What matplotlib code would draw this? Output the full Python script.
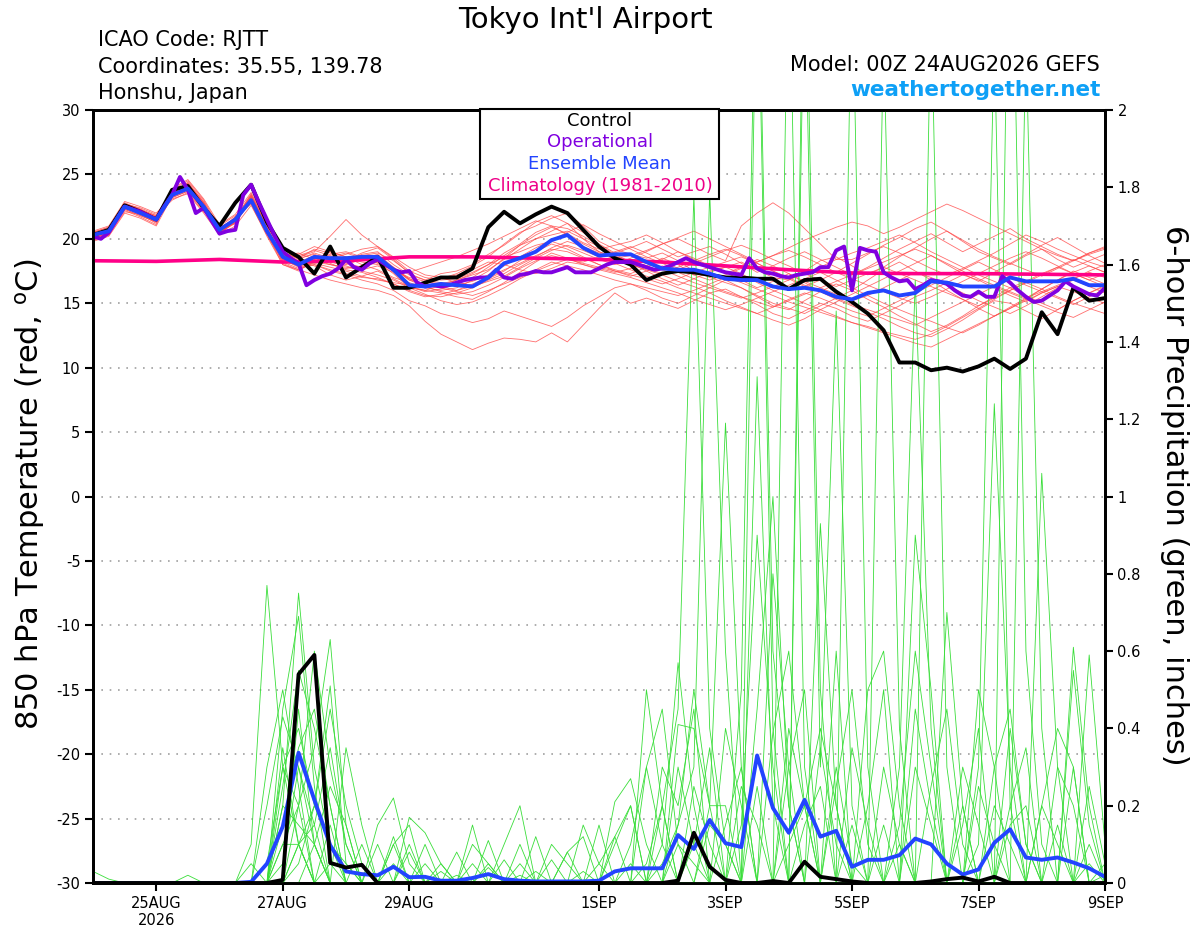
import numpy as np
import matplotlib
matplotlib.use("Agg")
import matplotlib.pyplot as plt
from matplotlib.patches import Rectangle

plt.rcParams["axes.unicode_minus"] = False

# 6-hourly steps from 00Z 24AUG2026 (in days), operational run is 3-hourly
steps6 = np.arange(0, 385, 6) / 24.0
steps3 = np.arange(0, 385, 3) / 24.0
clim_days = np.arange(0, 17)

tick_days = [1, 3, 5, 8, 10, 12, 14, 16]
tick_labels = ["25AUG\n2026", "27AUG", "29AUG", "1SEP", "3SEP", "5SEP", "7SEP", "9SEP"]

control_t = [20.3, 20.7, 22.6, 22.1, 21.5, 23.8, 24.1, 22.4, 21.0, 22.8,
             24.2, 21.3, 19.3, 18.6, 17.3, 19.4, 17.0, 17.8, 18.6, 16.2,
             16.2, 16.6, 17.0, 17.0, 17.7, 20.9, 22.1, 21.2, 21.9, 22.5,
             22.0, 20.7, 19.4, 18.5, 18.0, 16.8, 17.3, 17.5, 17.4, 17.2,
             17.0, 17.0, 16.9, 16.9, 16.1, 16.8, 16.9, 15.9, 15.1, 14.2,
             12.9, 10.4, 10.4, 9.8, 10.0, 9.7, 10.1, 10.7, 9.9, 10.7,
             14.3, 12.6, 16.2, 15.2, 15.4]

mean_t = [20.3, 20.6, 22.5, 22.0, 21.5, 23.4, 23.9, 22.5, 20.7, 21.5,
          23.0, 20.6, 18.6, 18.0, 18.6, 18.5, 18.5, 18.6, 18.6, 17.6,
          16.4, 16.3, 16.5, 16.4, 16.3, 17.0, 18.1, 18.5, 19.0, 19.9,
          20.3, 19.3, 18.7, 18.8, 18.8, 18.2, 17.7, 17.6, 17.6, 17.3,
          16.9, 16.8, 16.8, 16.3, 16.1, 16.2, 16.0, 15.5, 15.3, 15.8,
          16.0, 15.6, 15.8, 16.7, 16.6, 16.3, 16.3, 16.3, 17.0, 16.7,
          16.7, 16.7, 16.9, 16.4, 16.4]

oper_t = [20.2, 20.0, 20.5, 21.5, 22.5, 22.3, 22.1, 21.8, 21.5, 22.5,
          23.4, 24.8, 23.8, 22.0, 22.4, 21.4, 20.4, 20.6, 20.7, 23.4,
          24.2, 22.8, 21.5, 20.2, 19.0, 18.5, 18.1, 16.4, 16.8, 17.1,
          17.3, 17.7, 18.4, 17.8, 17.6, 18.1, 18.4, 18.0, 17.6, 17.4,
          17.5, 16.6, 16.3, 16.4, 16.3, 16.4, 16.6, 16.8, 16.9, 17.0,
          17.0, 17.6, 17.0, 16.9, 17.2, 17.3, 17.5, 17.4, 17.4, 17.6,
          17.8, 17.4, 17.4, 17.4, 17.7, 18.0, 18.2, 18.2, 18.2, 18.0,
          17.8, 17.6, 17.7, 17.9, 18.2, 18.5, 18.2, 18.0, 17.8, 17.6,
          17.4, 17.3, 17.2, 18.5, 17.7, 17.4, 17.3, 17.1, 17.0, 17.2,
          17.3, 17.4, 17.8, 17.8, 19.1, 19.4, 16.0, 19.3, 19.1, 19.0,
          17.4, 17.0, 16.7, 16.8, 16.1, 16.4, 16.8, 16.7, 16.5, 16.0,
          15.6, 15.5, 15.9, 15.5, 15.5, 17.1, 16.6, 16.0, 15.5, 15.1,
          15.2, 15.6, 16.0, 16.7, 16.3, 16.0, 15.7, 15.6, 16.2]

clim_t = [18.3, 18.25, 18.4, 18.2, 18.3, 18.6, 18.6, 18.5, 18.4, 18.2,
          17.9, 17.6, 17.35, 17.3, 17.3, 17.25, 17.2]

member_t = [
    [20.0, 20.4, 22.3, 21.8, 21.3, 23.6, 24.2, 22.8, 20.5, 21.2, 23.3, 20.9,
     19.0, 18.5, 19.2, 18.9, 18.2, 18.8, 19.0, 18.0, 17.2, 16.8, 17.3,
     17.5, 18.0, 18.8, 19.5, 20.4, 21.3, 21.8, 21.2, 20.0, 19.0, 18.6,
     18.3, 17.9, 18.5, 18.0, 17.2, 17.5, 17.8, 18.2, 17.6, 17.0, 16.8, 17.5, 18.3, 18.6, 17.9,
     17.2, 17.8, 18.6, 19.3, 20.0, 20.6, 19.8, 19.0, 18.5, 18.0, 18.7, 19.2, 18.4, 17.8, 18.3, 18.8],
    [20.1, 20.5, 22.6, 22.2, 21.6, 23.2, 23.7, 22.3, 20.8, 21.6, 22.8, 20.4,
     18.0, 17.6, 17.2, 16.8, 16.5, 16.2, 16.0, 15.6, 14.8, 13.6, 12.6,
     12.0, 11.4, 11.9, 12.3, 12.2, 12.0, 12.7, 12.0, 13.3, 14.6, 15.8,
     15.0, 15.4, 15.0, 14.6, 15.2, 15.8, 16.1, 15.5, 14.9, 14.2, 13.8, 14.4, 15.0, 14.6, 14.0,
     13.6, 14.2, 14.8, 15.5, 16.0, 16.6, 17.2, 16.8, 16.2, 15.6, 15.1, 15.8, 16.3, 15.9, 15.4, 15.0],
    [20.3, 20.6, 22.4, 22.0, 21.4, 23.5, 24.0, 22.5, 20.6, 21.4, 23.0, 20.7,
     18.4, 17.8, 18.0, 17.5, 17.2, 16.8, 16.5, 16.0, 15.2, 14.8, 14.2,
     13.9, 13.5, 13.8, 14.4, 14.0, 13.6, 13.2, 13.9, 14.8, 15.5, 16.2,
     16.5, 16.0, 15.4, 15.0, 15.6, 16.2, 16.8, 16.2, 15.5, 14.8, 14.5, 15.2, 15.9, 16.5, 16.0,
     15.3, 14.7, 14.0, 13.4, 12.8, 13.3, 14.0, 14.8, 15.5, 16.2, 15.6, 15.0, 14.5, 15.2, 15.8, 16.3],
    [19.9, 20.3, 22.1, 21.9, 21.2, 23.5, 24.0, 22.6, 20.4, 21.3, 23.1, 20.8,
     18.8, 18.2, 18.7, 18.3, 18.0, 18.4, 18.8, 17.8, 16.8, 16.5, 16.9,
     17.3, 17.9, 18.6, 19.6, 20.5, 21.0, 21.6, 22.0, 21.0, 19.8, 19.2,
     18.8, 18.5, 18.9, 18.3, 17.5, 17.0, 16.6, 16.2, 15.6, 15.0, 14.6, 14.2, 14.8, 15.4, 16.0,
     16.8, 17.6, 18.2, 17.5, 16.8, 16.0, 15.3, 14.6, 14.0, 14.6, 15.3, 16.1, 16.8, 17.5, 17.0, 16.5],
    [20.4, 20.8, 22.8, 22.3, 21.8, 23.0, 23.6, 22.1, 21.0, 21.8, 22.7, 20.2,
     18.0, 17.5, 18.3, 18.6, 18.9, 18.5, 18.2, 17.3, 16.2, 16.0, 16.4,
     16.8, 17.2, 17.6, 18.4, 19.2, 20.0, 20.6, 21.2, 20.5, 19.6, 18.9,
     19.3, 19.8, 19.2, 18.6, 19.0, 19.4, 18.8, 18.1, 17.4, 17.9, 18.5, 19.0, 18.4, 17.8, 17.2,
     17.8, 18.5, 19.2, 19.8, 20.4, 19.7, 19.0, 19.6, 20.2, 20.8, 20.0, 19.4, 18.8, 18.3, 18.9, 19.3],
    [20.2, 20.5, 22.4, 22.0, 21.4, 23.8, 24.5, 23.0, 20.9, 21.5, 23.4, 21.0,
     19.2, 18.6, 19.0, 20.2, 21.5, 20.3, 19.4, 18.6, 17.8, 17.2, 17.0,
     16.6, 16.4, 16.9, 17.5, 18.3, 19.0, 19.6, 19.2, 18.6, 18.0, 17.6,
     17.3, 17.8, 18.4, 19.0, 18.5, 17.9, 17.4, 16.8, 16.2, 16.7, 17.3, 16.6, 15.9, 15.3, 14.8,
     14.3, 13.8, 13.2, 12.7, 12.4, 13.0, 13.7, 14.5, 15.2, 15.0, 14.4, 13.8, 14.5, 15.2, 15.8, 16.4],
    [19.8, 20.2, 22.0, 21.6, 21.0, 23.3, 23.9, 22.4, 20.6, 21.4, 22.9, 20.5,
     18.5, 18.0, 18.5, 18.1, 17.6, 17.4, 17.0, 16.5, 16.0, 15.6, 15.5,
     15.8, 16.2, 16.8, 17.3, 18.0, 18.6, 19.3, 19.8, 19.4, 18.9, 18.4,
     18.0, 17.6, 17.2, 16.7, 16.3, 15.8, 15.2, 14.7, 14.2, 13.7, 13.3, 13.8, 14.5, 15.1, 15.7,
     16.3, 16.9, 17.5, 18.1, 18.7, 18.0, 17.3, 16.7, 17.4, 18.1, 18.8, 19.5, 20.1, 19.4, 18.7, 18.1],
    [20.5, 20.9, 22.5, 22.1, 21.6, 23.4, 24.1, 22.7, 20.6, 21.7, 23.2, 20.7,
     18.7, 18.9, 18.4, 19.0, 18.6, 18.0, 17.6, 17.0, 16.6, 16.2, 16.0,
     16.2, 16.8, 17.5, 18.5, 19.5, 20.3, 20.9, 20.4, 19.7, 19.2, 19.5,
     19.8, 20.3, 19.7, 19.0, 18.4, 17.8, 17.3, 17.8, 18.4, 17.9, 17.3, 16.7, 16.2, 15.7, 15.2,
     15.6, 16.2, 16.8, 17.4, 17.0, 16.4, 15.8, 15.2, 14.7, 14.2, 14.8, 15.5, 16.2, 16.9, 17.5, 18.0],
    [20.0, 20.6, 22.7, 22.4, 21.9, 23.1, 23.5, 22.0, 20.3, 21.0, 22.6, 20.3,
     18.3, 17.9, 18.2, 18.0, 17.8, 17.6, 17.9, 17.4, 16.3, 15.9, 16.1,
     16.5, 17.0, 17.8, 18.7, 19.5, 20.0, 20.3, 20.6, 20.0, 19.4, 18.7,
     18.1, 17.5, 16.9, 16.4, 16.9, 17.4, 17.8, 17.3, 16.6, 16.0, 15.5, 15.0, 14.5, 14.0, 13.5,
     13.2, 12.8, 12.5, 12.2, 12.6, 13.2, 13.9, 14.6, 15.3, 16.0, 16.6, 16.1, 15.5, 15.0, 14.6, 14.2],
    [20.3, 20.7, 22.4, 21.9, 21.5, 23.7, 24.3, 22.9, 20.8, 21.6, 23.5, 21.1,
     19.0, 18.4, 18.9, 18.5, 18.8, 19.2, 19.4, 18.5, 17.5, 17.0, 16.8,
     16.9, 17.4, 18.0, 18.9, 19.6, 20.5, 21.0, 20.8, 20.2, 19.5, 18.8,
     18.2, 17.7, 17.3, 17.8, 18.3, 18.8, 19.2, 18.7, 18.1, 17.5, 16.9, 16.3, 16.8, 17.4, 18.1,
     18.8, 19.5, 20.1, 20.8, 21.3, 20.6, 19.9, 19.2, 18.6, 18.1, 17.6, 17.1, 17.7, 18.3, 18.9, 19.4],
    [19.9, 20.4, 22.2, 21.7, 21.1, 23.9, 24.6, 23.1, 21.1, 21.9, 23.6, 21.2,
     18.9, 18.3, 17.9, 17.2, 16.8, 17.1, 17.5, 16.9, 16.3, 16.0, 15.8,
     15.5, 15.3, 15.9, 16.6, 17.4, 18.2, 18.9, 18.5, 18.0, 17.6, 17.3,
     17.0, 16.6, 16.2, 15.8, 15.3, 14.9, 14.5, 14.9, 15.4, 15.9, 16.4, 16.9, 17.4, 16.8, 16.2,
     15.6, 15.0, 14.5, 14.0, 13.6, 13.1, 12.7, 13.3, 14.0, 14.7, 15.4, 16.1, 16.8, 17.4, 17.9, 17.4],
    [20.6, 21.0, 22.9, 22.5, 22.0, 23.3, 23.8, 22.4, 20.5, 21.3, 22.9, 20.6,
     18.6, 18.1, 18.6, 18.2, 18.4, 18.7, 18.9, 18.3, 17.4, 17.8, 18.2,
     18.6, 19.1, 19.6, 20.2, 20.8, 21.4, 21.0, 20.3, 19.6, 19.0, 18.5,
     18.7, 19.1, 19.6, 20.0, 19.4, 18.8, 18.3, 21.0, 22.0, 22.8, 22.0, 20.8, 19.6, 18.4, 18.4,
     18.9, 19.4, 18.9, 18.3, 17.7, 17.2, 17.7, 18.3, 18.9, 19.6, 20.3, 19.8, 19.2, 18.7, 18.2, 17.8],
    [20.2, 20.3, 22.5, 22.0, 21.4, 23.5, 24.2, 22.6, 20.7, 21.2, 23.0, 20.9,
     18.4, 17.9, 18.1, 17.8, 17.5, 17.1, 16.8, 16.6, 16.4, 16.6, 16.9,
     17.2, 17.6, 18.2, 18.0, 17.6, 17.3, 17.7, 18.2, 18.0, 17.7, 17.4,
     17.7, 18.1, 17.6, 17.1, 16.6, 16.2, 15.8, 15.4, 15.8, 16.3, 16.8, 17.3, 17.8, 18.4, 18.9,
     19.3, 19.8, 20.3, 19.7, 19.0, 18.4, 17.8, 17.2, 16.7, 16.2, 16.7, 17.3, 17.8, 17.3, 16.8, 16.3],
    [20.1, 20.6, 22.6, 22.2, 21.7, 23.6, 24.1, 22.5, 20.4, 21.4, 23.3, 20.8,
     18.1, 17.6, 18.2, 18.8, 19.0, 18.6, 18.1, 17.6, 16.9, 16.5, 16.3,
     16.0, 16.3, 16.7, 17.1, 17.8, 18.5, 19.1, 19.5, 19.1, 18.6, 18.1,
     17.6, 17.1, 16.7, 16.2, 15.8, 15.4, 15.0, 14.6, 14.2, 14.7, 15.3, 15.8, 15.4, 14.9, 14.4,
     14.0, 14.6, 15.2, 15.8, 16.4, 17.0, 17.6, 18.2, 17.6, 17.0, 16.4, 15.9, 15.4, 14.9, 15.5, 16.1],
    [20.4, 20.7, 22.3, 21.8, 21.3, 23.2, 23.7, 22.2, 20.8, 21.5, 23.1, 20.5,
     18.9, 18.5, 18.8, 18.4, 18.1, 17.8, 18.2, 17.7, 16.8, 16.3, 15.9,
     15.7, 15.9, 16.4, 17.0, 17.7, 18.3, 18.7, 18.4, 18.2, 18.6, 19.0,
     19.4, 18.9, 18.3, 17.7, 17.2, 16.8, 17.2, 17.7, 18.2, 18.7, 19.1, 18.6, 18.0, 17.4, 16.9,
     16.4, 15.9, 15.4, 15.0, 15.5, 16.1, 16.7, 17.3, 17.9, 18.5, 19.0, 18.5, 17.9, 17.3, 16.8, 17.3],
    [20.0, 20.5, 22.4, 22.1, 21.5, 23.4, 24.4, 22.8, 20.6, 21.3, 23.2, 20.6,
     18.6, 18.2, 18.5, 18.2, 17.9, 17.5, 17.2, 16.8, 16.2, 15.7, 15.2,
     14.9, 15.1, 15.6, 16.2, 16.9, 17.5, 18.0, 18.4, 18.1, 17.8, 17.5,
     17.2, 16.9, 16.5, 16.9, 17.4, 17.8, 18.2, 18.6, 18.1, 17.5, 17.0, 16.4, 15.9, 15.4, 14.9,
     14.5, 14.1, 13.7, 13.3, 13.9, 14.5, 15.1, 15.7, 16.3, 15.8, 15.3, 14.8, 14.3, 13.9, 14.5, 15.1],
    [20.3, 20.8, 22.7, 22.3, 21.7, 23.3, 23.9, 22.4, 20.7, 21.7, 23.1, 20.7,
     18.4, 18.7, 19.1, 18.7, 18.3, 18.9, 19.3, 18.4, 17.3, 16.8, 16.6,
     16.4, 16.7, 17.2, 17.9, 18.6, 19.3, 19.9, 20.5, 21.1, 20.4, 19.8,
     19.2, 18.6, 18.1, 17.6, 18.1, 18.6, 19.1, 19.5, 19.0, 18.4, 17.9, 17.3, 16.8, 16.3, 16.8,
     17.3, 17.8, 17.3, 16.8, 16.3, 15.8, 15.3, 14.8, 15.4, 16.0, 16.6, 17.2, 17.8, 18.4, 17.9, 17.4],
    [20.2, 20.4, 22.5, 21.9, 21.6, 23.6, 24.0, 22.6, 20.9, 21.5, 22.8, 20.4,
     18.2, 17.7, 18.0, 17.6, 17.3, 17.0, 16.9, 16.5, 15.9, 15.5, 15.7,
     16.0, 16.5, 17.0, 17.6, 18.1, 18.7, 19.2, 19.0, 18.5, 18.0, 17.5,
     17.1, 17.5, 17.9, 17.4, 16.9, 16.4, 15.9, 15.5, 15.1, 14.7, 15.2, 15.7, 16.2, 16.7, 17.2,
     17.7, 18.2, 18.7, 19.2, 18.7, 18.1, 17.5, 16.9, 16.4, 15.9, 15.4, 15.9, 16.4, 16.9, 17.4, 17.0],
    [19.9, 20.3, 22.4, 22.0, 21.4, 23.5, 24.3, 22.7, 20.8, 21.6, 23.4, 20.9,
     18.5, 17.9, 18.4, 18.0, 17.7, 17.9, 18.3, 17.8, 16.9, 16.4, 16.2,
     15.9, 15.6, 16.0, 16.5, 17.0, 17.6, 18.2, 17.9, 17.6, 17.2, 16.8,
     16.5, 16.2, 15.9, 15.6, 16.0, 16.5, 17.0, 16.6, 16.1, 15.6, 15.1, 14.7, 14.3, 13.9, 13.5,
     13.1, 12.7, 12.3, 11.9, 11.6, 12.2, 12.8, 13.4, 14.0, 14.6, 15.2, 15.8, 16.3, 16.8, 16.3, 15.8],
    [20.5, 20.9, 22.6, 22.2, 21.8, 23.7, 24.2, 22.8, 20.5, 21.4, 23.3, 21.0,
     19.1, 18.8, 19.4, 19.0, 18.6, 18.2, 18.0, 17.6, 17.0, 16.7, 16.5,
     16.8, 17.3, 18.0, 18.6, 19.0, 19.5, 19.8, 19.4, 18.9, 18.4, 18.0,
     18.5, 19.0, 19.6, 20.1, 20.6, 20.0, 19.4, 18.8, 18.2, 18.7, 19.3, 19.9, 20.4, 20.9, 21.3,
     21.0, 20.4, 20.9, 21.5, 22.1, 22.7, 22.2, 21.6, 21.0, 20.4, 19.8, 19.2, 18.7, 18.3, 18.8, 19.2],
]

control_p = [0, 0, 0, 0, 0, 0, 0, 0, 0, 0,
             0, 0, 0.008, 0.54, 0.59, 0.052, 0.04, 0.047, 0, 0,
             0, 0, 0, 0, 0, 0, 0, 0, 0, 0,
             0, 0, 0, 0, 0, 0, 0, 0.006, 0.13, 0.042,
             0.008, 0, 0, 0.005, 0, 0.055, 0.016, 0.01, 0.004, 0,
             0, 0, 0, 0.004, 0.01, 0.014, 0.004, 0.016, 0, 0,
             0, 0, 0, 0, 0]

mean_p = [0, 0, 0, 0, 0, 0, 0, 0, 0, 0,
          0.003, 0.05, 0.146, 0.337, 0.215, 0.098, 0.03, 0.023, 0.02, 0.042,
          0.015, 0.016, 0.006, 0.006, 0.013, 0.023, 0.01, 0.006, 0.004, 0.004,
          0.004, 0.004, 0.006, 0.03, 0.038, 0.038, 0.038, 0.124, 0.088, 0.163,
          0.103, 0.093, 0.33, 0.194, 0.13, 0.215, 0.12, 0.135, 0.042, 0.06,
          0.06, 0.072, 0.115, 0.10, 0.05, 0.022, 0.035, 0.104, 0.139, 0.066,
          0.06, 0.066, 0.053, 0.038, 0.016]

# member precipitation: step index -> inches (all other steps are dry)
member_p = [
    {10: 0.1, 11: 0.77, 12: 0.3, 13: 0.1, 24: 0.1, 25: 0.05, 27: 0.05, 36: 0.2, 37: 0.45,
     38: 1.78, 39: 0.4, 40: 0.1, 47: 0.3, 48: 0.05, 56: 0.1, 57: 1.24, 58: 0.3, 63: 0.05},
    {12: 0.2, 13: 0.75, 14: 0.3, 15: 0.1, 16: 0.05, 20: 0.17, 21: 0.13, 22: 0.05, 34: 0.1,
     35: 0.3, 36: 0.1, 41: 0.5, 42: 2.6, 43: 0.6, 44: 0.2, 51: 0.3, 52: 1.56, 53: 0.4, 60: 0.2, 61: 0.1},
    {12: 0.45, 13: 0.69, 14: 0.25, 19: 0.1, 24: 0.15, 37: 0.15, 38: 0.3, 39: 1.79, 40: 0.6,
     44: 2.5, 45: 0.3, 55: 0.2, 58: 2.8, 59: 0.6, 60: 0.1},
    {13: 0.2, 14: 0.35, 15: 0.63, 16: 0.15, 20: 0.1, 25: 0.11, 30: 0.08, 39: 0.2, 40: 1.19,
     41: 0.3, 45: 2.6, 46: 0.5, 50: 0.3, 51: 0.1, 62: 0.61, 63: 0.2},
    {12: 0.3, 13: 0.4, 14: 0.2, 15: 0.51, 16: 0.05, 26: 0.1, 27: 0.2, 42: 1.31, 43: 0.2,
     48: 2.4, 49: 0.3, 56: 0.5, 57: 0.3, 63: 0.59, 64: 0.1},
    {11: 0.2, 12: 0.43, 13: 0.3, 14: 0.1, 21: 0.1, 31: 0.15, 32: 0.05, 35: 0.5, 36: 0.2,
     42: 2.5, 43: 0.4, 46: 0.93, 47: 0.2, 53: 2.3, 54: 0.3, 62: 0.55, 63: 0.15},
    {11: 0.3, 12: 0.5, 13: 0.25, 18: 0.15, 19: 0.22, 20: 0.05, 33: 0.1, 34: 0.2, 45: 2.4,
     46: 0.3, 47: 1.48, 48: 0.2, 56: 0.3, 57: 2.2, 58: 0.2},
    {10: 0.05, 12: 0.15, 13: 0.35, 14: 0.45, 15: 0.2, 17: 0.1, 28: 0.12, 30: 0.08, 31: 0.12,
     36: 0.3, 37: 0.2, 38: 0.45, 43: 0.8, 44: 0.3, 50: 2.2, 51: 0.4, 60: 1.06, 61: 0.3},
    {12: 0.25, 13: 0.55, 14: 0.4, 15: 0.2, 23: 0.08, 25: 0.05, 36: 0.1, 37: 0.57, 38: 0.2,
     44: 0.4, 45: 0.2, 47: 0.6, 55: 0.15, 56: 0.4, 59: 2.2, 60: 0.4},
    {12: 0.1, 13: 0.2, 14: 0.6, 15: 0.3, 16: 0.1, 19: 0.12, 29: 0.1, 30: 0.05, 38: 0.1,
     39: 0.35, 41: 0.15, 42: 0.9, 43: 0.3, 49: 0.2, 50: 0.5, 52: 0.45, 53: 0.2, 61: 0.3, 62: 0.2},
    {13: 0.1, 14: 0.2, 15: 0.45, 16: 0.2, 17: 0.05, 22: 0.03, 33: 0.21, 34: 0.27, 35: 0.1,
     40: 0.4, 41: 0.2, 46: 0.35, 47: 0.1, 52: 0.9, 53: 0.5, 58: 0.2, 59: 0.35, 64: 0.05},
    {11: 0.05, 12: 0.3, 13: 0.2, 19: 0.1, 20: 0.15, 26: 0.06, 32: 0.15, 37: 0.3, 38: 0.1,
     43: 0.39, 44: 0.6, 45: 0.2, 54: 0.7, 55: 0.2, 62: 0.3},
    {12: 0.05, 13: 0.3, 14: 0.15, 15: 0.35, 16: 0.1, 24: 0.05, 29: 0.06, 35: 0.3, 36: 0.45,
     37: 0.1, 41: 0.25, 42: 0.15, 49: 0.5, 50: 0.6, 51: 0.2, 58: 0.4, 59: 0.1},
    {14: 0.1, 15: 0.25, 16: 0.15, 18: 0.1, 21: 0.05, 32: 0.05, 33: 0.12, 37: 0.41, 38: 0.4,
     39: 0.2, 40: 0.2, 44: 0.3, 45: 0.5, 52: 0.3, 53: 0.15, 57: 0.3, 58: 0.45, 59: 0.1},
    {12: 0.2, 13: 0.15, 14: 0.1, 20: 0.08, 28: 0.03, 38: 0.25, 39: 0.1, 42: 0.45, 43: 1.0,
     44: 0.2, 48: 0.15, 55: 0.3, 56: 0.15, 63: 0.25, 64: 0.05},
    {0: 0.03, 1: 0.01, 13: 0.45, 14: 0.1, 22: 0.05, 35: 0.05, 36: 0.2, 44: 0.1, 45: 0.2,
     46: 0.4, 47: 0.2, 51: 0.15, 52: 0.6, 53: 0.3, 60: 0.2, 61: 0.4, 62: 0.3},
    {6: 0.02, 12: 0.35, 13: 0.1, 15: 0.05, 25: 0.04, 33: 0.12, 34: 0.2, 36: 0.05, 37: 0.15,
     38: 0.5, 39: 0.2, 48: 0.35, 49: 0.15, 56: 0.25, 57: 0.1},
    {13: 0.1, 14: 0.15, 16: 0.35, 17: 0.15, 27: 0.02, 34: 0.05, 40: 0.15, 41: 0.3, 47: 0.25,
     48: 0.5, 49: 0.1, 58: 0.15, 59: 0.2, 64: 0.02},
    {12: 0.1, 13: 0.1, 15: 0.15, 19: 0.05, 27: 0.1, 31: 0.03, 39: 0.15, 40: 0.1, 42: 0.25,
     50: 0.15, 53: 0.25, 54: 0.45, 55: 0.1, 61: 0.15},
    {13: 0.05, 14: 0.2, 15: 0.1, 23: 0.02, 37: 0.1, 38: 0.05, 45: 0.15, 46: 0.25, 51: 0.1,
     57: 0.2, 58: 0.1, 63: 0.1},
]

W, H = 1200, 927
fig = plt.figure(figsize=(W / 100, H / 100), dpi=100)
ax = fig.add_axes([93 / W, 1 - 883 / H, (1105 - 93) / W, (883 - 110) / H])
ax2 = ax.twinx()

# temperature side
ax.set_xlim(0, 16)
ax.set_ylim(-30, 30)
ax.set_yticks(np.arange(-30, 31, 5))
ax.yaxis.grid(True, linestyle=(0, (1, 4)), color="#a0a0a0", lw=1.2)
for m in member_t:
    ax.plot(steps6, m, color="#ff4a4a", lw=0.6, alpha=0.8)

# precipitation side
ax2.set_ylim(0, 2)
ax2.set_yticks(np.arange(0, 2.01, 0.2))
ax2.set_yticklabels(["0", "0.2", "0.4", "0.6", "0.8", "1", "1.2", "1.4", "1.6", "1.8", "2"])
for d in member_p:
    p = np.zeros(len(steps6))
    for k, v in d.items():
        p[k] = v
    ax2.plot(steps6, p, color="#3ade3a", lw=0.6)
ax2.plot(steps6, mean_p, color="#2244ff", lw=2.8)
ax2.plot(steps6, control_p, color="black", lw=2.8)

# main temperature lines drawn on top of the precip
tt = ax.transData
ax2.plot(clim_days, clim_t, color="#ff0088", lw=2.6, transform=tt)
ax2.plot(steps6, control_t, color="black", lw=2.8, transform=tt)
ax2.plot(steps3, oper_t, color="#8000e0", lw=2.8, transform=tt)
ax2.plot(steps6, mean_t, color="#2244ff", lw=2.8, transform=tt)

ax.set_xticks(tick_days)
ax.set_xticklabels(tick_labels)
for a in (ax, ax2):
    a.tick_params(direction="out", length=6, width=1.5, labelsize=10.5, pad=3)
    for s in a.spines.values():
        s.set_linewidth(2)

# header texts
fig.text(585 / W, 1 - 28 / H, "Tokyo Int'l Airport", ha="center", va="baseline", fontsize=21)
for txt, yb in [("ICAO Code: RJTT", 46), ("Coordinates: 35.55, 139.78", 72.7), ("Honshu, Japan", 99.3)]:
    fig.text(98 / W, 1 - yb / H, txt, ha="left", va="baseline", fontsize=15)
fig.text(1100 / W, 1 - 71 / H, "Model: 00Z 24AUG2026 GEFS", ha="right", va="baseline", fontsize=15)
fig.text(1101 / W, 1 - 96.5 / H, "weathertogether.net", ha="right", va="baseline",
         fontsize=15.5, fontweight="bold", color="#0ea0f6")

fig.text(30 / W, 1 - 494 / H, r"850 hPa Temperature (red, $^{\rm o}$C)", rotation=90,
         ha="center", va="center", fontsize=22)
fig.text(1175 / W, 1 - 495 / H, "6-hour Precipitation (green, inches)", rotation=270,
         ha="center", va="center", fontsize=22)

# legend box
fig.patches.append(Rectangle((480 / W, 1 - 199 / H), 239 / W, 90 / H, transform=fig.transFigure,
                             facecolor="white", edgecolor="black", lw=1.5, zorder=5))
for txt, col, yc in [("Control", "black", 121), ("Operational", "#8000e0", 142),
                     ("Ensemble Mean", "#2244ff", 164), ("Climatology (1981-2010)", "#ee0088", 186)]:
    fig.text(600 / W, 1 - yc / H, txt, color=col, ha="center", va="center", fontsize=13, zorder=6)

fig.savefig("out.png", dpi=100)
